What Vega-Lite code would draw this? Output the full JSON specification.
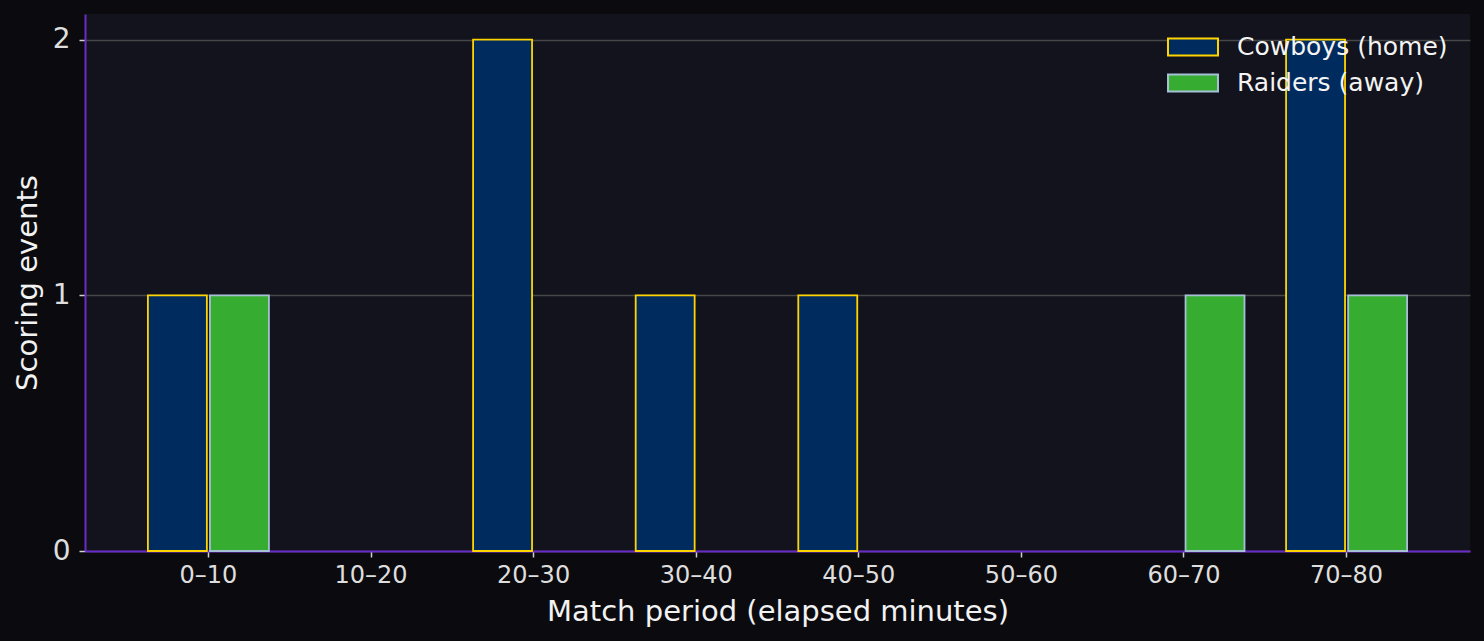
{
  "$schema": "https://vega.github.io/schema/vega-lite/v6.json",
  "autosize": "none",
  "width": 1385,
  "height": 537,
  "padding": { "left": 85, "top": 14, "right": 14, "bottom": 90 },
  "background": "#0b0b0f",
  "config": {
    "view": { "fill": "#12131c", "stroke": null },
    "font": "DejaVu Sans",
    "axis": {
      "domainColor": "#6a2cc8",
      "domainWidth": 2,
      "tickColor": "#cfcfcf",
      "tickWidth": 1.5,
      "tickSize": 6,
      "labelColor": "#dedede",
      "titleColor": "#f2f2f2",
      "titleFontWeight": "normal",
      "titleFontSize": 29,
      "labelFont": "DejaVu Sans",
      "titleFont": "DejaVu Sans"
    }
  },
  "data": {
    "values": [
      { "period": "0–10", "team": "Cowboys (home)", "events": 1 },
      { "period": "0–10", "team": "Raiders (away)", "events": 1 },
      { "period": "20–30", "team": "Cowboys (home)", "events": 2 },
      { "period": "30–40", "team": "Cowboys (home)", "events": 1 },
      { "period": "40–50", "team": "Cowboys (home)", "events": 1 },
      { "period": "60–70", "team": "Raiders (away)", "events": 1 },
      { "period": "70–80", "team": "Cowboys (home)", "events": 2 },
      { "period": "70–80", "team": "Raiders (away)", "events": 1 }
    ]
  },
  "mark": { "type": "bar", "strokeWidth": 1.8, "opacity": 1, "fillOpacity": 1 },
  "encoding": {
    "x": {
      "field": "period",
      "type": "nominal",
      "sort": ["0–10", "10–20", "20–30", "30–40", "40–50", "50–60", "60–70", "70–80"],
      "scale": {
        "domain": ["0–10", "10–20", "20–30", "30–40", "40–50", "50–60", "60–70", "70–80"],
        "paddingInner": 0,
        "paddingOuter": 0.259
      },
      "axis": {
        "title": "Match period (elapsed minutes)",
        "labelAngle": 0,
        "labelFontSize": 24,
        "labelPadding": 6,
        "titlePadding": 10,
        "grid": false
      }
    },
    "xOffset": {
      "field": "team",
      "type": "nominal",
      "scale": {
        "domain": ["Cowboys (home)", "Raiders (away)"],
        "paddingInner": 0.05,
        "paddingOuter": 0.335
      }
    },
    "y": {
      "field": "events",
      "type": "quantitative",
      "scale": { "domain": [0, 2.1], "nice": false },
      "axis": {
        "title": "Scoring events",
        "values": [0, 1, 2],
        "labelExpr": "datum.value + ''",
        "labelOverlap": false,
        "labelFontSize": 28,
        "labelPadding": 9,
        "titlePadding": 10,
        "grid": true,
        "gridColor": "#474747",
        "gridWidth": 1.6
      }
    },
    "color": {
      "field": "team",
      "type": "nominal",
      "scale": {
        "domain": ["Cowboys (home)", "Raiders (away)"],
        "range": ["#002b5e", "#36ad31"]
      },
      "legend": {
        "title": null,
        "orient": "none",
        "legendX": 1090,
        "legendY": 15,
        "padding": 0,
        "symbolType": "M-1.47,-0.5L1.47,-0.5L1.47,0.5L-1.47,0.5Z",
        "symbolSize": 1156,
        "symbolStrokeWidth": 2,
        "labelFontSize": 25,
        "labelLimit": 400,
        "labelColor": "#f4f4f4",
        "labelOffset": 26,
        "rowPadding": 5,
        "symbolOpacity": 1
      }
    },
    "stroke": {
      "field": "team",
      "type": "nominal",
      "scale": {
        "domain": ["Cowboys (home)", "Raiders (away)"],
        "range": ["#ffd400", "#a6c0d6"]
      },
      "legend": null
    }
  }
}
